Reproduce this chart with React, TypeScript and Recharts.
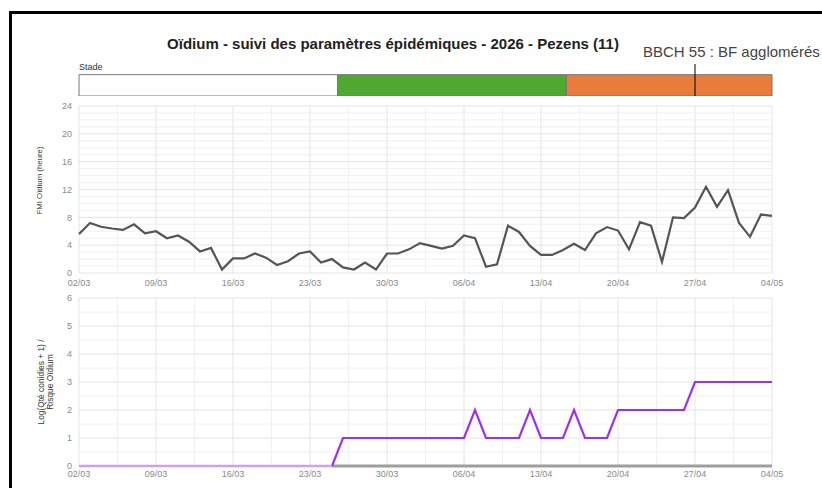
import React from "react"
import {
  ComposedChart,
  LineChart,
  Line,
  XAxis,
  YAxis,
  CartesianGrid,
  ReferenceLine,
  ReferenceArea,
} from "recharts"

const TITLE = "Oïdium - suivi des paramètres épidémiques - 2026 - Pezens (11)"

// jours du 02/03 au 04/05
const DATES = [
  "02/03", "03/03", "04/03", "05/03", "06/03", "07/03", "08/03", "09/03", "10/03", "11/03",
  "12/03", "13/03", "14/03", "15/03", "16/03", "17/03", "18/03", "19/03", "20/03", "21/03",
  "22/03", "23/03", "24/03", "25/03", "26/03", "27/03", "28/03", "29/03", "30/03", "31/03",
  "01/04", "02/04", "03/04", "04/04", "05/04", "06/04", "07/04", "08/04", "09/04", "10/04",
  "11/04", "12/04", "13/04", "14/04", "15/04", "16/04", "17/04", "18/04", "19/04", "20/04",
  "21/04", "22/04", "23/04", "24/04", "25/04", "26/04", "27/04", "28/04", "29/04", "30/04",
  "01/05", "02/05", "03/05", "04/05",
]

const TICK_LABELS = ["02/03", "09/03", "16/03", "23/03", "30/03", "06/04", "13/04", "20/04", "27/04", "04/05"]

// FMI Oïdium (heure)
const FMI = [
  5.6, 7.2, 6.65, 6.4, 6.2, 7.0, 5.7, 6.0, 5.0, 5.4,
  4.5, 3.1, 3.6, 0.5, 2.1, 2.1, 2.8, 2.2, 1.15, 1.7,
  2.8, 3.1, 1.5, 2.0, 0.8, 0.5, 1.5, 0.5, 2.8, 2.8,
  3.4, 4.3, 3.9, 3.5, 3.9, 5.4, 5.0, 0.9, 1.25, 6.8,
  5.9, 3.9, 2.6, 2.6, 3.3, 4.2, 3.3, 5.7, 6.6, 6.1,
  3.4, 7.3, 6.8, 1.6, 8.0, 7.9, 9.4, 12.4, 9.5, 11.9,
  7.2, 5.2, 8.4, 8.2,
]

// Log(Qté conidies + 1) / Risque Oïdium
const RISQUE = [
  0, 0, 0, 0, 0, 0, 0, 0, 0, 0,
  0, 0, 0, 0, 0, 0, 0, 0, 0, 0,
  0, 0, 0, 0, 1, 1, 1, 1, 1, 1,
  1, 1, 1, 1, 1, 1, 2, 1, 1, 1,
  1, 2, 1, 1, 1, 2, 1, 1, 1, 2,
  2, 2, 2, 2, 2, 2, 3, 3, 3, 3,
  3, 3, 3, 3,
]

// stades phénologiques (en jours depuis le 02/03)
const STAGE_START = [0, 23.5, 44.3]
const STAGE_END = [23.5, 44.3, 63]
const STAGE_COLORS = ["#ffffff", "#4fa82f", "#e87c3a"]

const BBCH_DAY = 56
const BBCH_LABEL = "BBCH 55 : BF agglomérés"

const LAST = DATES.length - 1
const firstRise = RISQUE.findIndex((v) => v > 0) - 1

const rows = DATES.map((date, i) => ({
  i,
  date,
  fmi: FMI[i],
  risque: i >= firstRise ? RISQUE[i] : null,
  zero: i <= firstRise ? 0 : null,
  base: i >= firstRise ? 0 : null,
}))

const MAJOR_X = TICK_LABELS.map((_, k) => k * 7)
const MINOR_X = TICK_LABELS.slice(1).map((_, k) => k * 7 + 3.5)
const TOP_TICKS = [0, 4, 8, 12, 16, 20, 24]
const TOP_MINOR = Array.from({ length: 24 }, (_, k) => k).filter((v) => v % 4 !== 0)
const BOT_TICKS = [0, 1, 2, 3, 4, 5, 6]
const BOT_MINOR = BOT_TICKS.slice(1).map((v) => v - 0.5)

const tickStyle = { fontSize: 9, fill: "#8a8a8a" }

function BbchLabel(props: any) {
  const { viewBox } = props
  return (
    <text x={viewBox.x - 52} y={viewBox.y - 7} fontSize={15} fill="#444">
      {BBCH_LABEL}
    </text>
  )
}

function RiskAxisLabel(props: any) {
  const { viewBox } = props
  const cx = viewBox.x + viewBox.width / 2
  const cy = viewBox.y + viewBox.height / 2
  return (
    <text transform={`rotate(-90 ${cx} ${cy})`} x={cx} y={cy} textAnchor="middle" fontSize={8.4} fill="#333">
      <tspan x={cx} dy={4.3}>Log(Qté conidies + 1) /</tspan>
      <tspan x={cx} dy={9.5}>Risque Oïdium</tspan>
    </text>
  )
}

export default function App() {
  return (
    <div
      style={{
        position: "absolute",
        left: 0,
        top: 0,
        width: 822,
        height: 488,
        overflow: "hidden",
        background: "#fff",
        fontFamily: "'Liberation Sans', Arial, sans-serif",
      }}
    >
      <div
        style={{
          position: "absolute",
          left: 9,
          top: 11,
          width: 900,
          height: 600,
          borderTop: "3px solid #000",
          borderLeft: "3px solid #000",
        }}
      />
      <div
        style={{
          position: "absolute",
          left: 0,
          top: 35,
          width: 786,
          textAlign: "center",
          fontWeight: "bold",
          fontSize: 15,
          color: "#222",
        }}
      >
        {TITLE}
      </div>
      <div style={{ position: "absolute", left: 79, top: 62, fontSize: 9, color: "#333" }}>Stade</div>

      <div style={{ position: "absolute", left: 0, top: 40 }}>
        <ComposedChart width={822} height={56} data={rows} margin={{ top: 24, right: 50, left: 79, bottom: 0 }}>
          <XAxis type="number" dataKey="i" domain={[0, LAST]} allowDataOverflow hide />
          <YAxis type="number" domain={[0, 1.5]} allowDataOverflow hide />
          {STAGE_START.map((s, k) => (
            <ReferenceArea
              key={k}
              x1={s}
              x2={STAGE_END[k]}
              y1={0}
              y2={1}
              fill={STAGE_COLORS[k]}
              fillOpacity={1}
              stroke="#777"
              strokeWidth={1}
            />
          ))}
          <ReferenceLine x={BBCH_DAY} stroke="#000" strokeWidth={1} label={<BbchLabel />} />
        </ComposedChart>
      </div>

      <div style={{ position: "absolute", left: 0, top: 100 }}>
        <LineChart width={822} height={195} data={rows} margin={{ top: 6, right: 50, left: 0, bottom: 2 }}>
          <CartesianGrid stroke="#e4e4e4" />
          {MINOR_X.map((v) => (
            <ReferenceLine key={"x" + v} x={v} stroke="#f0f0f0" />
          ))}
          {TOP_MINOR.map((v) => (
            <ReferenceLine key={"y" + v} y={v} stroke="#f0f0f0" />
          ))}
          <XAxis
            type="number"
            dataKey="i"
            domain={[0, LAST]}
            ticks={MAJOR_X}
            interval={0}
            tickFormatter={(v: number) => TICK_LABELS[v / 7]}
            axisLine={false}
            tickLine={false}
            tickSize={0}
            tickMargin={7}
            tick={tickStyle}
            height={20}
          />
          <YAxis
            type="number"
            domain={[0, 24]}
            ticks={TOP_TICKS}
            interval={0}
            axisLine={false}
            tickLine={false}
            tickSize={0}
            tickMargin={7}
            tick={tickStyle}
            width={79}
            label={{ value: "FMI Oïdium (heure)", angle: -90, position: "center", fontSize: 7.8, fill: "#333", dy: -9 }}
          />
          <Line
            type="linear"
            dataKey="fmi"
            stroke="#555"
            strokeWidth={2.2}
            dot={false}
            isAnimationActive={false}
          />
        </LineChart>
      </div>

      <div style={{ position: "absolute", left: 0, top: 290 }}>
        <LineChart width={822} height={198} data={rows} margin={{ top: 8, right: 50, left: 0, bottom: 2 }}>
          <CartesianGrid stroke="#e4e4e4" />
          {MINOR_X.map((v) => (
            <ReferenceLine key={"x" + v} x={v} stroke="#f0f0f0" />
          ))}
          {BOT_MINOR.map((v) => (
            <ReferenceLine key={"y" + v} y={v} stroke="#f0f0f0" />
          ))}
          <XAxis
            type="number"
            dataKey="i"
            domain={[0, LAST]}
            ticks={MAJOR_X}
            interval={0}
            tickFormatter={(v: number) => TICK_LABELS[v / 7]}
            axisLine={false}
            tickLine={false}
            tickSize={0}
            tickMargin={5}
            tick={tickStyle}
            height={20}
          />
          <YAxis
            type="number"
            domain={[0, 6]}
            ticks={BOT_TICKS}
            interval={0}
            axisLine={false}
            tickLine={false}
            tickSize={0}
            tickMargin={7}
            tick={tickStyle}
            width={79}
            label={<RiskAxisLabel />}
          />
          <Line type="linear" dataKey="base" stroke="#9e9e9e" strokeWidth={3} dot={false} isAnimationActive={false} />
          <Line type="linear" dataKey="risque" stroke="#9b30f2" strokeWidth={2.2} dot={false} isAnimationActive={false} />
          <Line type="linear" dataKey="zero" stroke="#cf9ff6" strokeWidth={2.4} dot={false} isAnimationActive={false} />
        </LineChart>
      </div>
    </div>
  )
}
